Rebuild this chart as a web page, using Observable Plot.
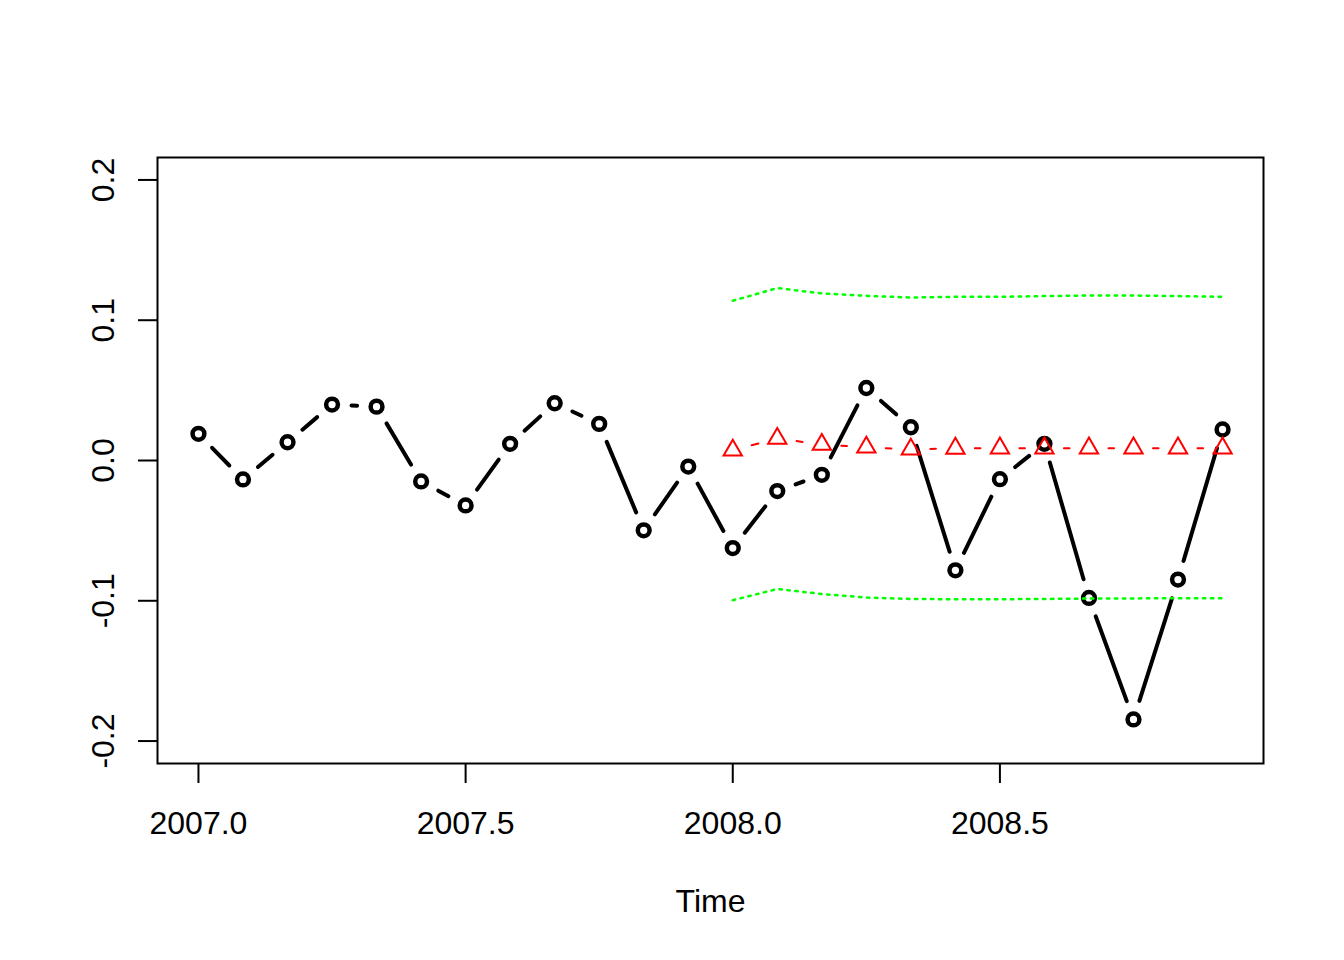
<!DOCTYPE html>
<html>
<head>
<meta charset="utf-8">
<script src="https://cdn.jsdelivr.net/npm/d3@7"></script>
<script src="https://cdn.jsdelivr.net/npm/@observablehq/plot@0.6"></script>
<style>
  html, body { margin: 0; padding: 0; background: #ffffff; }
  #chart svg { display: block; }
</style>
</head>
<body>
<div id="chart"></div>
<script>
// ---- Data ----
const obsTime = [2007.0000, 2007.0833, 2007.1667, 2007.2500, 2007.3333, 2007.4167,
                 2007.5000, 2007.5833, 2007.6667, 2007.7500, 2007.8333, 2007.9167,
                 2008.0000, 2008.0833, 2008.1667, 2008.2500, 2008.3333, 2008.4167,
                 2008.5000, 2008.5833, 2008.6667, 2008.7500, 2008.8333, 2008.9167];
const obsValue = [0.0190, -0.0135, 0.0130, 0.0399, 0.0384, -0.0149,
                  -0.0320, 0.0119, 0.0408, 0.0261, -0.0498, -0.0043,
                  -0.0624, -0.0218, -0.0102, 0.0517, 0.0237, -0.0783,
                  -0.0133, 0.0119, -0.0980, -0.1846, -0.0849, 0.0221];

const fcTime = [2008.0000, 2008.0833, 2008.1667, 2008.2500, 2008.3333, 2008.4167,
                2008.5000, 2008.5833, 2008.6667, 2008.7500, 2008.8333, 2008.9167];
const fcValue = [0.0073, 0.0157, 0.0114, 0.0094, 0.0080, 0.0086,
                 0.0088, 0.0088, 0.0088, 0.0088, 0.0088, 0.0088];
const upperValue = [0.1139, 0.1229, 0.1191, 0.1174, 0.1162, 0.1167,
                    0.1167, 0.1172, 0.1176, 0.1176, 0.1172, 0.1167];
const lowerValue = [-0.0996, -0.0916, -0.0952, -0.0977, -0.0987, -0.0989,
                    -0.0989, -0.0987, -0.0984, -0.0983, -0.0982, -0.0982];

const xTicks = [2007.0, 2007.5, 2008.0, 2008.5];
const yTicks = [-0.2, -0.1, 0.0, 0.1, 0.2];
const xLabel = "Time";

// ---- Layout ----
const W = 1344, H = 960;
const mL = 157, mR = 81, mT = 157, mB = 197;
const xDomain = [2006.923333, 2008.993333];
const yDomain = [-0.216, 0.216];
const FONT = "'Liberation Sans', Arial, Helvetica, sans-serif";
const fmt1 = d => d.toFixed(1); // plain hyphen-minus, as in R

// library scales, used to shorten segments the way R's type="b" does
const xs = Plot.scale({x: {domain: xDomain, range: [mL, W - mR]}});
const ys = Plot.scale({y: {domain: yDomain, range: [H - mB, mT]}});

function gappedSegments(T, V, gap) {
  const segs = [];
  for (let i = 0; i < T.length - 1; i++) {
    const px0 = xs.apply(T[i]), py0 = ys.apply(V[i]);
    const px1 = xs.apply(T[i + 1]), py1 = ys.apply(V[i + 1]);
    const dx = px1 - px0, dy = py1 - py0;
    const d = Math.hypot(dx, dy);
    const f = gap / d;
    if (f < 0.5) {
      segs.push({
        x1: xs.invert(px0 + f * dx), y1: ys.invert(py0 + f * dy),
        x2: xs.invert(px1 - f * dx), y2: ys.invert(py1 - f * dy)
      });
    }
  }
  return segs;
}

const obs = obsTime.map((t, i) => ({t, v: obsValue[i]}));
const fc = fcTime.map((t, i) => ({t, v: fcValue[i]}));
const up = fcTime.map((t, i) => ({t, v: upperValue[i]}));
const lo = fcTime.map((t, i) => ({t, v: lowerValue[i]}));

const obsSegs = gappedSegments(obsTime, obsValue, 19.5);
const fcSegs = gappedSegments(fcTime, fcValue, 19.5);

const chart = Plot.plot({
  width: W,
  height: H,
  marginLeft: mL,
  marginRight: mR,
  marginTop: mT,
  marginBottom: mB,
  style: {fontFamily: FONT, background: "#ffffff", color: "#000000"},
  x: {domain: xDomain, label: null},
  y: {domain: yDomain, label: null},
  marks: [
    // axes (ticks + labels)
    Plot.axisX({ticks: xTicks, tickSize: 20, tickPadding: 28, tickFormat: fmt1,
                fontSize: 32, strokeWidth: 2, label: null}),
    Plot.axisY({ticks: yTicks, tickSize: 19, tickPadding: 25, tickRotate: -90,
                tickFormat: fmt1, fontSize: 32, strokeWidth: 2, label: null}),
    Plot.text([xLabel], {frameAnchor: "bottom", dy: 148, lineAnchor: "bottom",
                         textAnchor: "middle", fontSize: 32, fill: "#000000"}),
    // observed series (type = "b")
    Plot.link(obsSegs, {x1: "x1", y1: "y1", x2: "x2", y2: "y2",
                        stroke: "#000000", strokeWidth: 4, strokeLinecap: "round"}),
    Plot.dot(obs, {x: "t", y: "v", r: 5.9, stroke: "#000000", strokeWidth: 4.5, fill: "none"}),
    // forecast (dashed, triangles)
    Plot.link(fcSegs, {x1: "x1", y1: "y1", x2: "x2", y2: "y2",
                       stroke: "#ff0000", strokeWidth: 2, strokeDasharray: "8,8", strokeLinecap: "round"}),
    Plot.dot(fc, {x: "t", y: "v", symbol: "triangle", r: 6.8, stroke: "#ff0000",
                  strokeWidth: 2, fill: "none"}),
    // bounds (dotted)
    Plot.line(up, {x: "t", y: "v", stroke: "#00ff00", strokeWidth: 2.5, strokeDasharray: "2.5,5.5"}),
    Plot.line(lo, {x: "t", y: "v", stroke: "#00ff00", strokeWidth: 2.5, strokeDasharray: "2.5,5.5"}),
    Plot.frame({stroke: "#000000", strokeWidth: 2})
  ]
});

document.getElementById("chart").appendChild(chart);
</script>
</body>
</html>
